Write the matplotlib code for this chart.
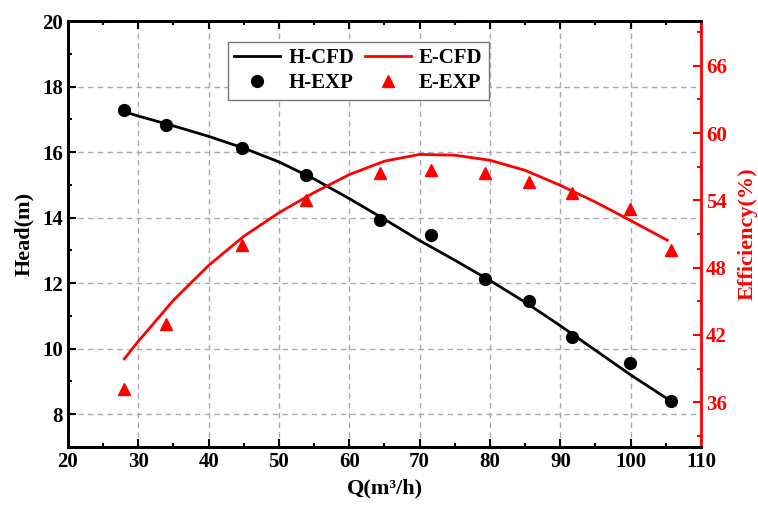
import matplotlib
matplotlib.use("Agg")
import matplotlib.pyplot as plt
from matplotlib.ticker import MultipleLocator

plt.rcParams['font.family'] = ['Liberation Serif', 'DejaVu Serif']
plt.rcParams['font.weight'] = 'bold'

# Experimental data
q_exp = [28.0, 33.9, 44.8, 53.9, 64.3, 71.6, 79.3, 85.6, 91.7, 99.9, 105.8]
h_exp = [17.28, 16.82, 16.14, 15.30, 13.93, 13.46, 12.14, 11.45, 10.36, 9.55, 8.39]
e_exp = [37.2, 43.0, 50.0, 54.0, 56.4, 56.75, 56.45, 55.6, 54.7, 53.2, 49.6]

# CFD data
q_hcfd = [28, 30, 35, 40, 45, 50, 55, 60, 65, 70, 75, 80, 85, 90, 95, 100, 105.8]
h_cfd = [17.23, 17.10, 16.80, 16.48, 16.12, 15.70, 15.18, 14.58, 13.95, 13.30,
         12.70, 12.08, 11.42, 10.70, 9.95, 9.20, 8.39]
q_ecfd = [28, 30, 35, 40, 45, 50, 55, 60, 65, 70, 75, 80, 85, 90, 95, 100, 105.2]
e_cfd = [39.86, 41.43, 45.1, 48.2, 50.8, 52.9, 54.7, 56.3, 57.5, 58.1, 58.03,
         57.58, 56.68, 55.34, 53.85, 52.2, 50.45]

fig = plt.figure(figsize=(7.58, 5.09), dpi=100)
ax1 = fig.add_axes([0.0897, 0.1218, 0.8351, 0.8369])
ax2 = ax1.twinx()

l1, = ax1.plot(q_hcfd, h_cfd, color='black', lw=2.0, label='H-CFD', zorder=3)
p1, = ax1.plot(q_exp, h_exp, 'o', color='black', ms=8.5, label='H-EXP', zorder=4)
l2, = ax2.plot(q_ecfd, e_cfd, color='red', lw=2.0, label='E-CFD', zorder=3)
p2, = ax2.plot(q_exp, e_exp, '^', color='red', ms=8, label='E-EXP', zorder=4)

ax1.set_xlim(20, 110)
ax1.set_ylim(7, 20)
ax2.set_ylim(32, 70)

ax1.xaxis.set_major_locator(MultipleLocator(10))
ax1.xaxis.set_minor_locator(MultipleLocator(5))
ax1.yaxis.set_major_locator(MultipleLocator(2))
ax1.yaxis.set_minor_locator(MultipleLocator(1))
ax2.yaxis.set_major_locator(MultipleLocator(6))
ax2.yaxis.set_minor_locator(MultipleLocator(3))
ax2.set_yticks([36, 42, 48, 54, 60, 66])

ax1.grid(True, which='major', color='#aaaaaa', ls=(0, (4, 3)), lw=1.0)

ax1.tick_params(axis='both', which='both', direction='in', labelsize=15,
                top=True, right=False, width=1.5)
ax1.tick_params(which='major', length=6)
ax1.tick_params(which='minor', length=3)
ax2.tick_params(axis='y', which='both', direction='in', colors='red',
                labelsize=15, width=1.5)
ax2.tick_params(which='major', length=6)
ax2.tick_params(which='minor', length=3)

for s in ['left', 'bottom', 'top']:
    ax1.spines[s].set_linewidth(2)
for s in ['left', 'bottom', 'top', 'right']:
    ax2.spines[s].set_linewidth(2)
ax2.spines['right'].set_color('red')
ax1.spines['right'].set_visible(False)

for lab in ax1.get_xticklabels() + ax1.get_yticklabels() + ax2.get_yticklabels():
    lab.set_fontweight('bold')

ax1.set_xlabel('Q(m³/h)', fontsize=16, fontweight='bold', labelpad=5)
ax1.set_ylabel('Head(m)', fontsize=16, fontweight='bold', labelpad=6)
ax2.set_ylabel('Efficiency(%)', fontsize=16, fontweight='bold', color='red', labelpad=8)

leg = ax2.legend([l1, p1, l2, p2], ['H-CFD', 'H-EXP', 'E-CFD', 'E-EXP'],
                 ncol=2, loc='upper left', bbox_to_anchor=(0.2528, 0.951),
                 borderaxespad=0, fancybox=False, edgecolor='#777777', framealpha=1,
                 prop={'size': 15, 'weight': 'bold'}, handlelength=2.2,
                 columnspacing=0.5, handletextpad=0.4, labelspacing=0.25,
                 borderpad=0.3)
leg.get_frame().set_linewidth(1.0)

fig.savefig('out.png', dpi=100)
